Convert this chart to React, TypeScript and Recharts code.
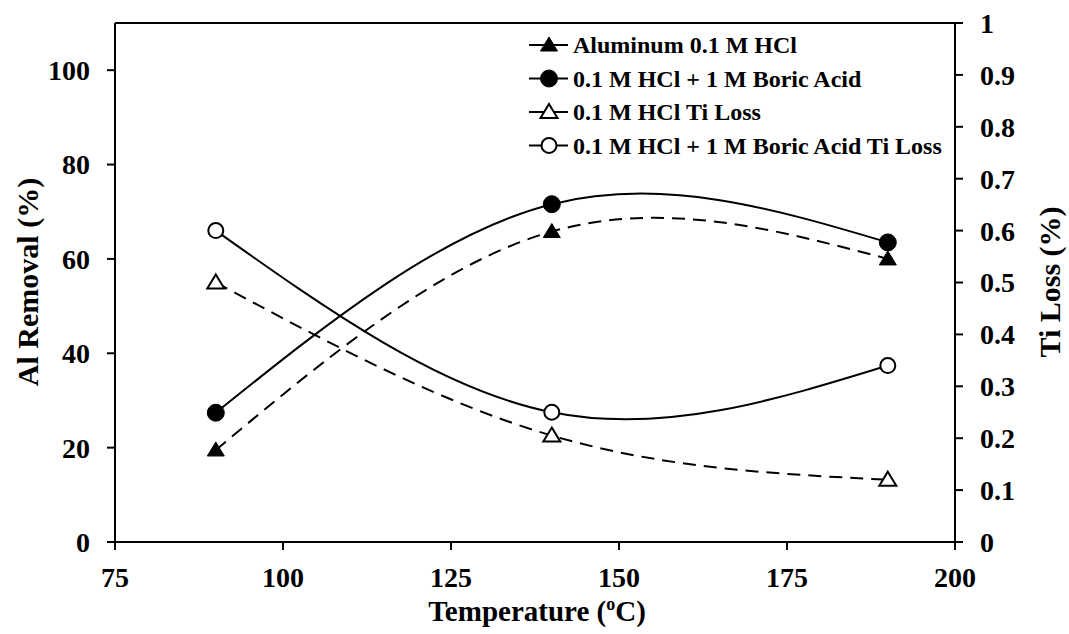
import React from 'react';
import { LineChart, Line, XAxis, YAxis, ReferenceLine, Label } from 'recharts';

const temperatures = [90, 140, 190];
const alHcl = [19.5, 65.8, 60.0];
const alBoric = [27.4, 71.6, 63.5];
const tiHcl = [0.5, 0.205, 0.12];
const tiBoric = [0.6, 0.25, 0.34];

const seriesNames = [
    'Aluminum 0.1 M HCl',
    '0.1 M HCl + 1 M Boric Acid',
    '0.1 M HCl Ti Loss',
    '0.1 M HCl + 1 M Boric Acid Ti Loss',
];

const xTicks = [75, 100, 125, 150, 175, 200];
const leftTicks = [0, 20, 40, 60, 80, 100];
const rightTicks = [0, 0.1, 0.2, 0.3, 0.4, 0.5, 0.6, 0.7, 0.8, 0.9, 1];

const font = '"Liberation Serif", "Times New Roman", serif';

const data = temperatures.map((t, i) => ({
    t,
    alHcl: alHcl[i],
    alBoric: alBoric[i],
    tiHcl: tiHcl[i],
    tiBoric: tiBoric[i],
}));

// marker style per series, same order as seriesNames
const markers = [
    { shape: 'triangle', filled: true },
    { shape: 'circle', filled: true },
    { shape: 'triangle', filled: false },
    { shape: 'circle', filled: false },
];

const Marker = ({ cx, cy, shape, filled }: any) => {
    if (cx == null || cy == null) return null;
    if (shape === 'triangle') {
        return (
            <path
                d={`M${cx},${cy - 8} L${cx + 8.5},${cy + 6} L${cx - 8.5},${cy + 6} Z`}
                fill={filled ? '#000' : '#fff'}
                stroke="#000"
                strokeWidth={filled ? 1 : 2}
            />
        );
    }
    return (
        <circle
            cx={cx}
            cy={cy}
            r={filled ? 8.5 : 7.5}
            fill={filled ? '#000' : '#fff'}
            stroke="#000"
            strokeWidth={filled ? 1 : 2}
        />
    );
};

const dotFor = (idx: number) => (props: any) => (
    <Marker key={`${idx}-${props.index}`} cx={props.cx} cy={props.cy} {...markers[idx]} />
);

const tickStyle = { fill: '#000', fontSize: 28, fontWeight: 'bold', fontFamily: font };
const axisStroke = { stroke: '#000', strokeWidth: 2 };

const App = () => {
    return (
        <div style={{ position: 'absolute', left: 0, top: 0, width: 1069, height: 634, background: '#fff' }}>
            <LineChart width={1069} height={634} data={data} margin={{ top: 23, right: 0, left: 0, bottom: 0 }}>
                <XAxis
                    dataKey="t"
                    type="number"
                    domain={[75, 200]}
                    ticks={xTicks}
                    height={92}
                    tick={tickStyle}
                    tickSize={8}
                    tickMargin={17}
                    axisLine={axisStroke}
                    tickLine={axisStroke}
                    interval={0}
                >
                    <Label
                        content={() => (
                            <text x={537} y={621} textAnchor="middle" fontFamily={font} fontWeight="bold" fontSize={29} fill="#000">
                                Temperature (
                                <tspan fontSize={18} dy={-11}>o</tspan>
                                <tspan dy={11}>C)</tspan>
                            </text>
                        )}
                    />
                </XAxis>
                <YAxis
                    yAxisId="left"
                    orientation="left"
                    width={115}
                    domain={[0, 110]}
                    ticks={leftTicks}
                    tick={tickStyle}
                    tickSize={8}
                    tickMargin={17}
                    axisLine={axisStroke}
                    tickLine={axisStroke}
                    interval={0}
                >
                    <Label
                        content={() => (
                            <text
                                x={27}
                                y={282}
                                transform="rotate(-90 27 282)"
                                textAnchor="middle"
                                dominantBaseline="central"
                                fontFamily={font}
                                fontWeight="bold"
                                fontSize={30}
                                fill="#000"
                            >
                                Al Removal (%)
                            </text>
                        )}
                    />
                </YAxis>
                <YAxis
                    yAxisId="right"
                    orientation="right"
                    width={114}
                    domain={[0, 1]}
                    ticks={rightTicks}
                    tickFormatter={(v: number) => String(v)}
                    tick={tickStyle}
                    tickSize={8}
                    tickMargin={17}
                    axisLine={axisStroke}
                    tickLine={axisStroke}
                    interval={0}
                >
                    <Label
                        content={() => (
                            <text
                                x={1049}
                                y={282}
                                transform="rotate(-90 1049 282)"
                                textAnchor="middle"
                                dominantBaseline="central"
                                fontFamily={font}
                                fontWeight="bold"
                                fontSize={30}
                                fill="#000"
                            >
                                Ti Loss (%)
                            </text>
                        )}
                    />
                </YAxis>
                <ReferenceLine yAxisId="left" y={110} stroke="#000" strokeWidth={2} />
                <Line yAxisId="left" dataKey="alHcl" type="natural" stroke="#000" strokeWidth={2} strokeDasharray="13 8" dot={dotFor(0)} activeDot={false} isAnimationActive={false} />
                <Line yAxisId="left" dataKey="alBoric" type="natural" stroke="#000" strokeWidth={2} dot={dotFor(1)} activeDot={false} isAnimationActive={false} />
                <Line yAxisId="right" dataKey="tiHcl" type="natural" stroke="#000" strokeWidth={2} strokeDasharray="13 8" dot={dotFor(2)} activeDot={false} isAnimationActive={false} />
                <Line yAxisId="right" dataKey="tiBoric" type="natural" stroke="#000" strokeWidth={2} dot={dotFor(3)} activeDot={false} isAnimationActive={false} />
            </LineChart>
            <svg width={460} height={170} style={{ position: 'absolute', left: 500, top: 0 }}>
                {seriesNames.map((name, i) => {
                    const y = 45 + i * 33.5;
                    return (
                        <g key={name}>
                            <line x1={29} x2={68} y1={y} y2={y} stroke="#000" strokeWidth={2} />
                            <Marker cx={49} cy={y} {...markers[i]} />
                            <text x={73} y={y} dominantBaseline="central" fontFamily={font} fontWeight="bold" fontSize={24} fill="#000">
                                {name}
                            </text>
                        </g>
                    );
                })}
            </svg>
        </div>
    );
};

export default App;
